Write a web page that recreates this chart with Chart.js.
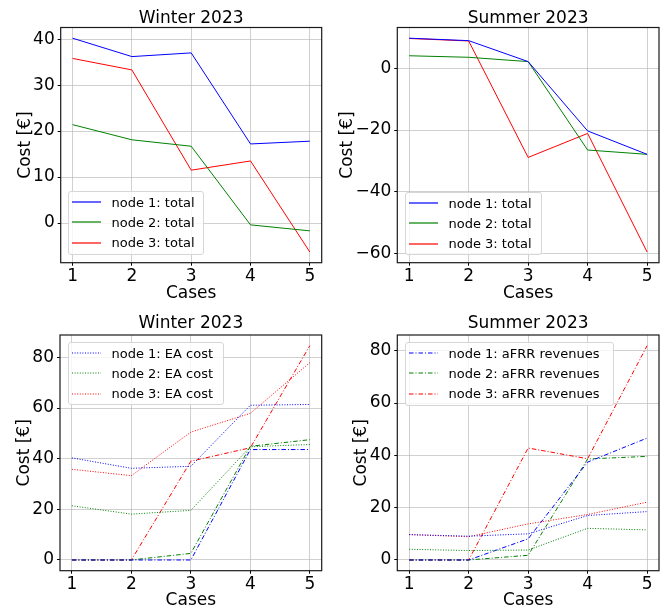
<!DOCTYPE html>
<html>
<head>
<meta charset="utf-8">
<script src="https://cdn.jsdelivr.net/npm/chart.js@4"></script>
<style>
  body { margin: 0; background: #fff; font-family: "DejaVu Sans", sans-serif; }
  #fig { position: relative; width: 668px; height: 609px; }
  .panel { position: absolute; }
  .legend {
    position: absolute; box-sizing: border-box;
    background: rgba(255,255,255,0.8); border: 1px solid #d6d6d6; border-radius: 3px;
    font-size: 13px; color: #000; padding: 0 0 0 3px;
  }
  .legend .row { display: flex; align-items: center; height: 20.3px; white-space: nowrap; }
  .legend svg { width: 29px; height: 20px; margin-right: 10.5px; flex: none; }
</style>
</head>
<body>
<div id="fig">
  <div class="panel" style="left:0;top:0"><canvas id="c1" width="334" height="305"></canvas>
    <div class="legend" id="l1" style="left:68px;top:191px;width:136px;height:64px"></div></div>
  <div class="panel" style="left:334px;top:0"><canvas id="c2" width="334" height="305"></canvas>
    <div class="legend" id="l2" style="left:71px;top:192px;width:137px;height:63px"></div></div>
  <div class="panel" style="left:0;top:305px"><canvas id="c3" width="334" height="304"></canvas>
    <div class="legend" id="l3" style="left:68px;top:37px;width:156px;height:63px"></div></div>
  <div class="panel" style="left:334px;top:305px"><canvas id="c4" width="334" height="304"></canvas>
    <div class="legend" id="l4" style="left:71px;top:37px;width:209px;height:64px"></div></div>
</div>
<script>
Chart.defaults.animation = false;
Chart.defaults.font.family = "DejaVu Sans";
Chart.defaults.color = "#000";

const cases = [1, 2, 3, 4, 5];
const xTicks = [1, 2, 3, 4, 5];

// top row: total cost per node
const winterTotal1 = [40.2, 36.2, 37.0, 17.2, 17.8];
const winterTotal2 = [21.4, 18.1, 16.7, -0.4, -1.7];
const winterTotal3 = [35.8, 33.3, 11.5, 13.5, -6.3];
const summerTotal1 = [9.8, 9.0, 2.2, -20.3, -27.9];
const summerTotal2 = [4.1, 3.6, 2.2, -26.5, -27.9];
const summerTotal3 = [9.7, 8.9, -28.9, -21.1, -59.6];

// bottom row: EA cost (dotted) and aFRR revenues (dash-dot)
const winterEA1 = [40.3, 36.2, 37.0, 61.1, 61.4];
const winterEA2 = [21.4, 18.1, 19.6, 44.7, 45.6];
const winterEA3 = [35.8, 33.3, 50.5, 57.9, 77.9];
const winterAfrr1 = [0, 0, 0, 43.6, 43.6];
const winterAfrr2 = [0, 0, 2.6, 44.9, 47.5];
const winterAfrr3 = [0, 0, 39.0, 44.3, 84.6];
const summerEA1 = [9.7, 9.1, 10.0, 17.0, 18.5];
const summerEA2 = [4.1, 3.6, 3.8, 12.1, 11.5];
const summerEA3 = [9.7, 8.9, 13.8, 17.4, 22.1];
const summerAfrr1 = [0, 0, 8.1, 37.4, 46.6];
const summerAfrr2 = [0, 0, 1.8, 38.6, 39.6];
const summerAfrr3 = [0, 0, 42.8, 38.7, 81.9];

const winterTotalTicks = [0, 10, 20, 30, 40];
const summerTotalTicks = [-60, -40, -20, 0];
const costTicks = [0, 20, 40, 60, 80];

const BLUE = "#0000ff", GREEN = "#008000", RED = "#ff0000";
const DASH = { solid: [], dot: [1, 1.6], dashdot: [4.5, 2, 1, 2] };

const minus = (v) => String(v).replace("-", "\u2212");

// matplotlib-like 5% margins around the data
function limits(arrs) {
  const all = arrs.flat();
  const lo = Math.min(...all), hi = Math.max(...all);
  const m = (hi - lo) * 0.05;
  return [lo - m, hi + m];
}

function line(vals, color, style) {
  return {
    data: cases.map((c, i) => ({ x: c, y: vals[i] })),
    borderColor: color,
    borderWidth: 1,
    borderDash: DASH[style],
    pointRadius: 0,
    tension: 0,
  };
}

const frame = {
  id: "frame",
  afterDatasetsDraw(c) {
    const a = c.chartArea, ctx = c.ctx;
    ctx.save();
    ctx.strokeStyle = "#1a1a1a";
    ctx.lineWidth = 1.2;
    ctx.strokeRect(a.left, a.top, a.right - a.left, a.bottom - a.top);
    ctx.restore();
  },
};

function panel(id, p) {
  const [yMin, yMax] = limits(p.series);
  new Chart(document.getElementById(id), {
    type: "line",
    data: { datasets: p.datasets },
    plugins: [frame],
    options: {
      responsive: false,
      devicePixelRatio: 1,
      layout: { padding: { left: 0, top: 0, right: p.padRight, bottom: 0 } },
      plugins: {
        legend: { display: false },
        tooltip: { enabled: false },
        title: {
          display: true, text: p.title, color: "#000", fullSize: false,
          font: { size: 17, weight: "normal", lineHeight: 1 },
          padding: { top: p.titleTop, bottom: p.titleBottom },
        },
      },
      scales: {
        x: {
          type: "linear", min: 0.8, max: 5.2, bounds: "data",
          afterBuildTicks: (s) => { s.ticks = xTicks.map((v) => ({ value: v })); },
          afterFit: (s) => { s.height = p.xHeight; },
          grid: { color: "rgba(176,176,176,0.6)", lineWidth: 1, tickColor: "#000", tickLength: 3 },
          border: { display: false },
          ticks: { font: { size: 17 }, padding: 1, maxRotation: 0, callback: (v) => minus(v) },
          title: { display: true, text: "Cases", font: { size: 17, lineHeight: 1 }, padding: { top: 0, bottom: p.xTitlePad } },
        },
        y: {
          type: "linear", min: yMin, max: yMax, bounds: "data",
          afterBuildTicks: (s) => { s.ticks = p.yTicks.map((v) => ({ value: v })); },
          afterFit: (s) => { s.width = p.yWidth; },
          grid: { color: "rgba(176,176,176,0.6)", lineWidth: 1, tickColor: "#000", tickLength: 3 },
          border: { display: false },
          ticks: { font: { size: 17 }, padding: 3, callback: (v) => minus(v) },
          title: { display: true, text: "Cost [€]", font: { size: 17, lineHeight: 1 }, padding: { top: p.yTitlePad, bottom: 0 } },
        },
      },
    },
  });
}

function legend(id, items) {
  const dash = { solid: "", dot: "1 1.6", dashdot: "4.5 2 1 2" };
  document.getElementById(id).innerHTML = items
    .map(([label, color, style]) =>
      `<div class="row"><svg viewBox="0 0 29 20"><line x1="0" y1="10" x2="29" y2="10" stroke="${color}" stroke-width="1.2" stroke-dasharray="${dash[style]}"/></svg><span>${label}</span></div>`)
    .join("");
}

panel("c1", {
  title: "Winter 2023", titleTop: 10.5, titleBottom: 0, padRight: 12.3,
  yWidth: 60.7, xHeight: 42.3, yTitlePad: 16.8, xTitlePad: 3, yTicks: winterTotalTicks,
  series: [winterTotal1, winterTotal2, winterTotal3],
  datasets: [line(winterTotal1, BLUE, "solid"), line(winterTotal2, GREEN, "solid"), line(winterTotal3, RED, "solid")],
});
panel("c2", {
  title: "Summer 2023", titleTop: 10.5, titleBottom: 0, padRight: 9,
  yWidth: 63.3, xHeight: 42.3, yTitlePad: 4.8, xTitlePad: 3, yTicks: summerTotalTicks,
  series: [summerTotal1, summerTotal2, summerTotal3],
  datasets: [line(summerTotal1, BLUE, "solid"), line(summerTotal2, GREEN, "solid"), line(summerTotal3, RED, "solid")],
});
panel("c3", {
  title: "Winter 2023", titleTop: 10.5, titleBottom: 2.5, padRight: 12.3,
  yWidth: 60, xHeight: 38.3, yTitlePad: 16.2, xTitlePad: 0, yTicks: costTicks,
  series: [winterEA1, winterEA2, winterEA3, winterAfrr1, winterAfrr2, winterAfrr3],
  datasets: [
    line(winterEA1, BLUE, "dot"), line(winterEA2, GREEN, "dot"), line(winterEA3, RED, "dot"),
    line(winterAfrr1, BLUE, "dashdot"), line(winterAfrr2, GREEN, "dashdot"), line(winterAfrr3, RED, "dashdot"),
  ],
});
panel("c4", {
  title: "Summer 2023", titleTop: 10.5, titleBottom: 2.5, padRight: 9,
  yWidth: 63.3, xHeight: 38.3, yTitlePad: 19.3, xTitlePad: 0, yTicks: costTicks,
  series: [summerEA1, summerEA2, summerEA3, summerAfrr1, summerAfrr2, summerAfrr3],
  datasets: [
    line(summerEA1, BLUE, "dot"), line(summerEA2, GREEN, "dot"), line(summerEA3, RED, "dot"),
    line(summerAfrr1, BLUE, "dashdot"), line(summerAfrr2, GREEN, "dashdot"), line(summerAfrr3, RED, "dashdot"),
  ],
});

legend("l1", [["node 1: total", BLUE, "solid"], ["node 2: total", GREEN, "solid"], ["node 3: total", RED, "solid"]]);
legend("l2", [["node 1: total", BLUE, "solid"], ["node 2: total", GREEN, "solid"], ["node 3: total", RED, "solid"]]);
legend("l3", [["node 1: EA cost", BLUE, "dot"], ["node 2: EA cost", GREEN, "dot"], ["node 3: EA cost", RED, "dot"]]);
legend("l4", [["node 1: aFRR revenues", BLUE, "dashdot"], ["node 2: aFRR revenues", GREEN, "dashdot"], ["node 3: aFRR revenues", RED, "dashdot"]]);
</script>
</body>
</html>
